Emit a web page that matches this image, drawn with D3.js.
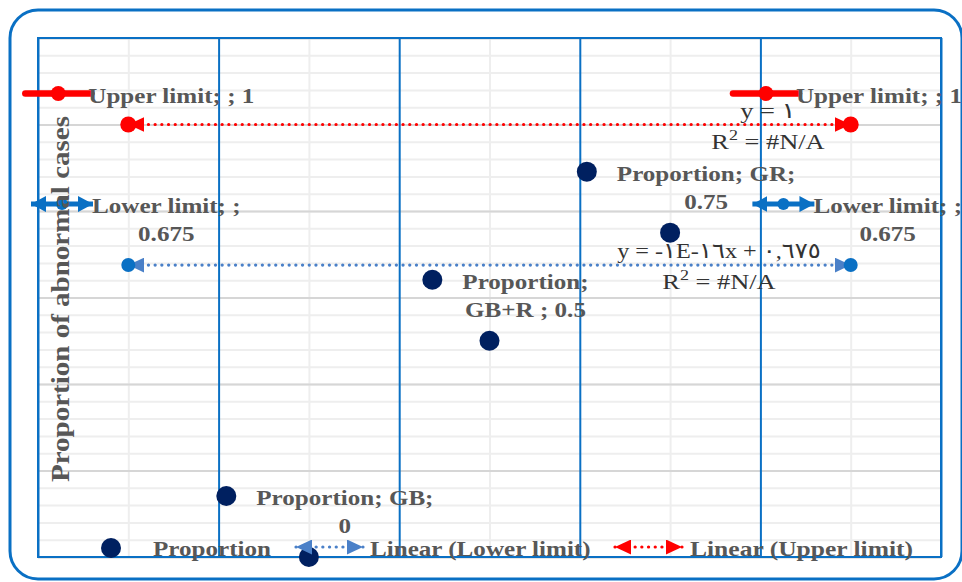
<!DOCTYPE html>
<html>
<head>
<meta charset="utf-8">
<script src="https://cdn.jsdelivr.net/npm/d3@7"></script>
<style>
  body { margin: 0; background: #fff; }
  svg { display: block; }
</style>
</head>
<body>
<svg id="chart" width="962" height="582"></svg>
<script>
// ---- data ----
const categories = ["GB", "GB+R ", "GR"];
const categoryX = [3, 5, 7];
const proportion = [0, 0.5, 0.75];
const limitX = [1, 9];
const upperLimit = [1, 1];
const lowerLimit = [0.675, 0.675];
const xMajorTicks = [0, 2, 4, 6, 8, 10];
const xMinorTicks = [1, 3, 5, 7, 9];
const yMajorTicks = [0, 0.2, 0.4, 0.6, 0.8, 1.0, 1.2];
const yMinorTicks = d3.range(0, 1.2001, 0.04);
const upperEquation = ["y = ١", "#N/A"];
const lowerEquation = ["y = -١E-١٦x + ٠,٦٧٥", "#N/A"];
const seriesNames = ["Proportion", "Upper limit", "Lower limit"];
const yTitle = "Proportion of abnormal cases";
const legendLabels = ["Proportion", "Linear (Lower limit)", "Linear (Upper limit)"];

// ---- styling ----
const BLUE = "#0a70c4";
const NAVY = "#002060";
const RED = "#ff0000";
const TREND_BLUE = "#4a80c8";
const LABEL_GREY = "#575757";
const SERIF = "'Liberation Serif', 'DejaVu Serif', serif";
const ARABIC_SAFE = "'Liberation Serif', 'DejaVu Sans', serif";
// horizontal stretch applied to the serif face so it sets as wide as a Cambria-like face
const STRETCH_BOLD = 1.14;
const STRETCH_REG = 1.2;
const STRETCH_ARABIC = 1.1;

const svg = d3.select("#chart");
const W = 962, H = 582;
const plot = { left: 38, right: 941, top: 38, bottom: 557 };

const x = d3.scaleLinear().domain([0, 10]).range([plot.left, plot.right]);
const y = d3.scaleLinear().domain([0, 1.2]).range([plot.bottom, plot.top]);

function stretch(sel, k) {
  sel.each(function () {
    const w = this.getComputedTextLength();
    this.setAttribute("textLength", (w * k).toFixed(2));
    this.setAttribute("lengthAdjust", "spacingAndGlyphs");
  });
  return sel;
}

// outer chart frame
svg.append("rect")
  .attr("x", 10).attr("y", 10).attr("width", 952).attr("height", 569)
  .attr("rx", 28).attr("ry", 28)
  .attr("fill", "#fff").attr("stroke", BLUE).attr("stroke-width", 3);

const grid = svg.append("g");

// minor gridlines (light grey)
grid.append("g")
  .attr("transform", `translate(${plot.left},0)`)
  .call(d3.axisLeft(y).tickValues(yMinorTicks).tickSize(-(plot.right - plot.left)).tickFormat(""))
  .call(g => g.select(".domain").remove())
  .call(g => g.selectAll("line").attr("stroke", "#eeeeee").attr("stroke-width", 2));

grid.append("g")
  .attr("transform", `translate(0,${plot.bottom})`)
  .call(d3.axisBottom(x).tickValues(xMinorTicks).tickSize(-(plot.bottom - plot.top)).tickFormat(""))
  .call(g => g.select(".domain").remove())
  .call(g => g.selectAll("line").attr("stroke", "#eeeeee").attr("stroke-width", 2));

// major horizontal gridlines
grid.append("g")
  .attr("transform", `translate(${plot.left},0)`)
  .call(d3.axisLeft(y).tickValues(yMajorTicks).tickSize(-(plot.right - plot.left)).tickFormat(""))
  .call(g => g.select(".domain").remove())
  .call(g => g.selectAll("line").attr("stroke", "#d6d6d6").attr("stroke-width", 2));

// major vertical gridlines (blue)
grid.append("g")
  .attr("transform", `translate(0,${plot.bottom})`)
  .call(d3.axisBottom(x).tickValues(xMajorTicks).tickSize(-(plot.bottom - plot.top)).tickFormat(""))
  .call(g => g.select(".domain").remove())
  .call(g => g.selectAll("line").attr("stroke", BLUE).attr("stroke-width", 2));

// plot area border
svg.append("rect")
  .attr("x", plot.left).attr("y", plot.top)
  .attr("width", plot.right - plot.left).attr("height", plot.bottom - plot.top)
  .attr("fill", "none").attr("stroke", BLUE).attr("stroke-width", 2);

// ---- arrow markers ----
const defs = svg.append("defs");
function arrowMarker(id, color, len, wid) {
  defs.append("marker")
    .attr("id", id)
    .attr("markerUnits", "userSpaceOnUse")
    .attr("viewBox", `0 0 ${len} ${wid}`)
    .attr("markerWidth", len).attr("markerHeight", wid)
    .attr("refX", len).attr("refY", wid / 2)
    .attr("orient", "auto-start-reverse")
    .append("path")
    .attr("d", `M0,0L${len},${wid / 2}L0,${wid}Z`)
    .attr("fill", color);
}
arrowMarker("trendRed", RED, 16, 15);
arrowMarker("trendBlue", TREND_BLUE, 16, 15);
arrowMarker("keyBlue", BLUE, 15, 16);

// ---- linear trendlines ----
function linearFit(xs, ys) {
  const mx = d3.mean(xs), my = d3.mean(ys);
  const sxx = d3.sum(xs, v => (v - mx) * (v - mx));
  const sxy = d3.sum(xs, (v, i) => (v - mx) * (ys[i] - my));
  const slope = sxx === 0 ? 0 : sxy / sxx;
  return { slope, intercept: my - slope * mx };
}
function drawTrend(ys, color, markerId) {
  const fit = linearFit(limitX, ys);
  const pts = d3.extent(limitX).map(v => [x(v), y(fit.intercept + fit.slope * v)]);
  svg.append("path")
    .attr("d", d3.line()(pts))
    .attr("fill", "none")
    .attr("stroke", color)
    .attr("stroke-width", 3.2)
    .attr("stroke-linecap", "round")
    .attr("stroke-dasharray", "0.1 6.6")
    .attr("marker-start", `url(#${markerId})`)
    .attr("marker-end", `url(#${markerId})`);
}
drawTrend(upperLimit, RED, "trendRed");
drawTrend(lowerLimit, TREND_BLUE, "trendBlue");

// ---- series markers ----
svg.append("g").selectAll("circle")
  .data(limitX.map((v, i) => [v, upperLimit[i]]))
  .join("circle")
  .attr("cx", d => x(d[0])).attr("cy", d => y(d[1])).attr("r", 8).attr("fill", RED);

svg.append("g").selectAll("circle")
  .data(limitX.map((v, i) => [v, lowerLimit[i]]))
  .join("circle")
  .attr("cx", d => x(d[0])).attr("cy", d => y(d[1])).attr("r", 7).attr("fill", BLUE);

svg.append("g").selectAll("circle")
  .data(categoryX.map((v, i) => [v, proportion[i]]))
  .join("circle")
  .attr("cx", d => x(d[0])).attr("cy", d => y(d[1])).attr("r", 10).attr("fill", NAVY);

// ---- label keys ----
function keyUpper(g, cx, cy) {
  g.append("line").attr("x1", cx - 33).attr("x2", cx + 33).attr("y1", cy).attr("y2", cy)
    .attr("stroke", RED).attr("stroke-width", 6.5).attr("stroke-linecap", "round");
  g.append("circle").attr("cx", cx).attr("cy", cy).attr("r", 7.5).attr("fill", RED);
}
function keyLower(g, cx, cy) {
  g.append("line").attr("x1", cx - 31).attr("x2", cx + 31).attr("y1", cy).attr("y2", cy)
    .attr("stroke", BLUE).attr("stroke-width", 5)
    .attr("marker-start", "url(#keyBlue)").attr("marker-end", "url(#keyBlue)");
  g.append("circle").attr("cx", cx).attr("cy", cy).attr("r", 6).attr("fill", BLUE);
}
function keyProportion(g, cx, cy) {
  g.append("circle").attr("cx", cx).attr("cy", cy).attr("r", 10).attr("fill", NAVY);
}

// ---- data labels ----
const labelLayer = svg.append("g");
const measurer = svg.append("text")
  .attr("font-family", SERIF).attr("font-weight", "bold").attr("font-size", 22)
  .attr("visibility", "hidden");
function textWidth(s) { measurer.text(s); return measurer.node().getComputedTextLength() * STRETCH_BOLD; }

const wrapWidth = 182;
function wrap(str) {
  const words = str.split(" ");
  const lines = [];
  let cur = "";
  words.forEach(w => {
    const trial = cur ? cur + " " + w : w;
    if (cur && textWidth(trial) > wrapWidth) { lines.push(cur); cur = w; }
    else cur = trial;
  });
  if (cur) lines.push(cur);
  return lines;
}

function fmt(v) { return String(+v.toFixed(3)); }

function dataLabel(px, py, text, dx, keyFn) {
  const lines = wrap(text);
  const widths = lines.map(textWidth);
  let cx = px + dx;
  const right = cx + d3.max(widths) / 2;
  if (right > W) cx -= right - W;
  const base0 = lines.length === 1 ? py - 22 : py - 52;
  const g = labelLayer.append("g");
  keyFn(g, cx - widths[0] / 2 - 30, base0 - 9);
  g.selectAll("text").data(lines).join("text")
    .attr("x", cx).attr("y", (d, i) => base0 + i * 28)
    .attr("text-anchor", "middle")
    .attr("font-family", SERIF).attr("font-weight", "bold").attr("font-size", 22)
    .attr("fill", LABEL_GREY)
    .text(d => d)
    .call(stretch, STRETCH_BOLD);
}

limitX.forEach((v, i) => {
  dataLabel(x(v), y(upperLimit[i]), `${seriesNames[1]}; ; ${fmt(upperLimit[i])}`, 43, keyUpper);
  dataLabel(x(v), y(lowerLimit[i]), `${seriesNames[2]}; ; ${fmt(lowerLimit[i])}`, 38, keyLower);
});
categoryX.forEach((v, i) => {
  dataLabel(x(v), y(proportion[i]), `${seriesNames[0]}; ${categories[i]}; ${fmt(proportion[i])}`, 36, keyProportion);
});

// ---- trendline equations ----
function equation(cx, baseY, lines) {
  const g = svg.append("g")
    .attr("font-family", ARABIC_SAFE).attr("font-size", 22).attr("fill", "#333");
  const k = /[\u0660-\u0669]{2,}/.test(lines[0]) ? STRETCH_ARABIC : STRETCH_REG;
  g.append("text").attr("x", cx).attr("y", baseY).attr("text-anchor", "middle")
    .attr("direction", "ltr").text(lines[0])
    .call(stretch, k);
  const t = g.append("text").attr("x", cx).attr("y", baseY + 31).attr("text-anchor", "middle");
  t.append("tspan").text("R");
  t.append("tspan").attr("dy", -9).attr("font-size", 15).text("2");
  t.append("tspan").attr("dy", 9).text(" = " + lines[1]);
  t.call(stretch, STRETCH_REG);
}
equation(768, 118, upperEquation);
equation(719, 258, lowerEquation);

// ---- y axis title ----
svg.append("text")
  .attr("transform", "translate(69,299) rotate(-90)")
  .attr("text-anchor", "middle")
  .attr("font-family", SERIF).attr("font-weight", "bold").attr("font-size", 25)
  .attr("fill", LABEL_GREY)
  .text(yTitle)
  .call(stretch, 1.16);

// ---- legend ----
const legend = svg.append("g")
  .attr("font-family", SERIF).attr("font-weight", "bold").attr("font-size", 22)
  .attr("fill", LABEL_GREY);
const legendY = 548;

legend.append("circle").attr("cx", 111).attr("cy", legendY).attr("r", 10).attr("fill", NAVY);
legend.append("text").attr("x", 153).attr("y", legendY + 8).text(legendLabels[0]).call(stretch, STRETCH_BOLD);

function legendTrendKey(x0, x1, color, markerId) {
  legend.append("line")
    .attr("x1", x0).attr("x2", x1).attr("y1", legendY - 1).attr("y2", legendY - 1)
    .attr("stroke", color).attr("stroke-width", 3.2)
    .attr("stroke-linecap", "round").attr("stroke-dasharray", "0.1 6.6")
    .attr("marker-start", `url(#${markerId})`).attr("marker-end", `url(#${markerId})`);
}
legendTrendKey(296, 363, TREND_BLUE, "trendBlue");
legend.append("text").attr("x", 370).attr("y", legendY + 8).text(legendLabels[1]).call(stretch, STRETCH_BOLD);
legendTrendKey(615, 682, RED, "trendRed");
legend.append("text").attr("x", 690).attr("y", legendY + 8).text(legendLabels[2]).call(stretch, 1.16);

measurer.remove();
</script>
</body>
</html>
